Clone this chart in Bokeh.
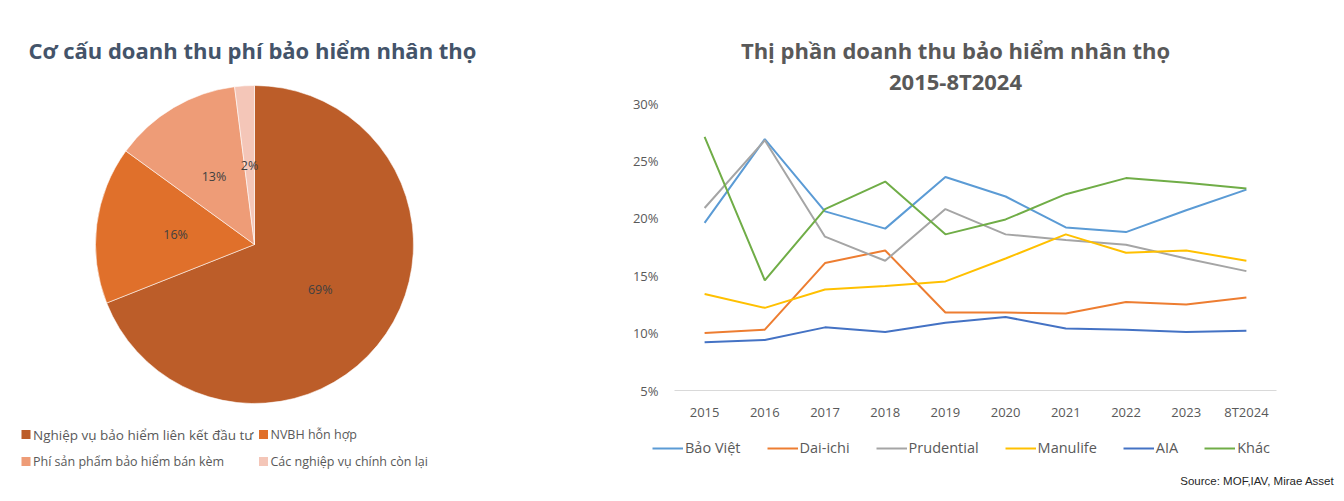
import math
from bokeh.plotting import figure
from bokeh.models import (Range1d, LinearAxis, FixedTicker, PrintfTickFormatter,
                          ColumnDataSource, Legend, LegendItem)
from bokeh.core.properties import value
from bokeh.embed import file_html
from bokeh.resources import INLINE

# ---------------- data ----------------
pie_title = "Cơ cấu doanh thu phí bảo hiểm nhân thọ"
pie_names = ["Nghiệp vụ bảo hiểm liên kết đầu tư", "NVBH hỗn hợp",
             "Phí sản phẩm bảo hiểm bán kèm", "Các nghiệp vụ chính còn lại"]
pie_shares = [69, 16, 13, 2]
pie_colors = ["#BC5D29", "#E0702B", "#EE9C77", "#F4C6B8"]

line_title_1 = "Thị phần doanh thu bảo hiểm nhân thọ"
line_title_2 = "2015-8T2024"
years = ["2015", "2016", "2017", "2018", "2019", "2020", "2021", "2022", "2023", "8T2024"]
series_names = ["Bảo Việt", "Dai-ichi", "Prudential", "Manulife", "AIA", "Khác"]
bao_viet = [19.6, 26.9, 20.6, 19.1, 23.6, 21.9, 19.2, 18.8, 20.7, 22.5]
dai_ichi = [10.0, 10.3, 16.1, 17.2, 11.8, 11.8, 11.7, 12.7, 12.5, 13.1]
prudential = [20.9, 26.8, 18.4, 16.3, 20.8, 18.6, 18.1, 17.7, 16.5, 15.4]
manulife = [13.4, 12.2, 13.8, 14.1, 14.5, 16.5, 18.6, 17.0, 17.2, 16.3]
aia = [9.2, 9.4, 10.5, 10.1, 10.9, 11.4, 10.4, 10.3, 10.1, 10.2]
khac = [27.1, 14.6, 20.8, 23.2, 18.6, 19.9, 22.1, 23.5, 23.1, 22.6]
series_colors = ["#5B9BD5", "#ED7D31", "#A5A5A5", "#FFC000", "#4472C4", "#70AD47"]
y_ticks = [5, 10, 15, 20, 25, 30]
source_text = "Source: MOF,IAV,  Mirae Asset"

FONT = value("Open Sans")
W, H = 1344, 501

# layout of the line-chart panel (pixels in the canvas, origin bottom-left)
PX_L, PX_R = 674, 1276          # plot area left/right
PY_B, PY_T = H - 390, H - 103   # plot area bottom/top
y_lo, y_hi = y_ticks[0], y_ticks[-1]
n = len(years)
ypp = (PY_T - PY_B) / (y_hi - y_lo)
xpp = (PX_R - PX_L) / n
pct_range = Range1d(y_lo - PY_B / ypp, y_hi + (H - PY_T) / ypp)
idx_range = Range1d(-0.5 - PX_L / xpp, n - 0.5 + (W - PX_R) / xpp)

p = figure(width=W, height=H, x_range=Range1d(0, W), y_range=Range1d(0, H),
           x_axis_type=None, y_axis_type=None, output_backend="svg",
           toolbar_location=None, min_border=0)
p.extra_x_ranges = {"idx": idx_range}
p.extra_y_ranges = {"pct": pct_range}
p.grid.visible = False
p.outline_line_color = None

# ---------------- pie ----------------
cx, cy, r = 254, 257, 159
total = sum(pie_shares)
starts, ends, lx, ly, ltxt = [], [], [], [], []
cum = 0
for s in pie_shares:
    a0 = math.pi / 2 - 2 * math.pi * cum / total
    cum += s
    a1 = math.pi / 2 - 2 * math.pi * cum / total
    starts.append(a0)
    ends.append(a1)
    mid = (a0 + a1) / 2
    lx.append(cx + 0.5 * r * math.cos(mid))
    ly.append(cy + 0.5 * r * math.sin(mid))
    ltxt.append(f"{s}%")

pie_src = ColumnDataSource(dict(start=starts, end=ends, color=pie_colors))
p.wedge(x=cx, y=cy, radius=r, start_angle="start", end_angle="end", direction="clock",
        fill_color="color", line_color="white", line_width=0.8, line_alpha=0.7, source=pie_src)
p.text(x=lx, y=ly, text=ltxt, text_font=FONT, text_font_size="12.5px", text_color="#404040",
       text_align="center", text_baseline="middle")

p.text(x=[28], y=[452], text=[pie_title], text_font=FONT, text_font_size="22px",
       text_font_style="bold", text_color="#44546A", text_align="left", text_baseline="middle")

leg_x = [25.5, 263, 25.5, 263]
leg_y = [67, 67, 40, 40]
leg_fs = ["13.5px", "12.5px", "12.5px", "12.5px"]
p.rect(x=leg_x, y=leg_y, width=9, height=9, fill_color=pie_colors, line_color=None)
p.text(x=[v + 7 for v in leg_x], y=leg_y, text=pie_names, text_font=FONT,
       text_font_size=leg_fs, text_color="#595959", text_align="left", text_baseline="middle")

# ---------------- line chart ----------------
xi = list(range(n))
all_series = [bao_viet, dai_ichi, prudential, manulife, aia, khac]
items = []
for name, vals, col in zip(series_names, all_series, series_colors):
    rr = p.line(xi, vals, line_color=col, line_width=2,
                x_range_name="idx", y_range_name="pct")
    items.append(LegendItem(label=name, renderers=[rr]))

yaxis = LinearAxis(y_range_name="pct", fixed_location=PX_L, bounds=(y_lo, y_hi),
                   ticker=FixedTicker(ticks=y_ticks),
                   formatter=PrintfTickFormatter(format="%d%%"),
                   axis_line_color=None, major_tick_line_color=None,
                   minor_tick_line_color=None, major_tick_in=0, major_tick_out=0,
                   major_label_standoff=16, major_label_text_font="Open Sans",
                   major_label_text_font_size="13px", major_label_text_color="#595959")
p.add_layout(yaxis, "left")

xaxis = LinearAxis(x_range_name="idx", fixed_location=PY_B, bounds=(-0.5, n - 0.5),
                   ticker=FixedTicker(ticks=xi),
                   major_label_overrides={i: y for i, y in enumerate(years)},
                   axis_line_color="#D9D9D9", axis_line_width=1,
                   major_tick_line_color=None, minor_tick_line_color=None,
                   major_tick_in=0, major_tick_out=0, major_label_standoff=12,
                   major_label_text_font="Open Sans", major_label_text_font_size="13px",
                   major_label_text_color="#595959")
p.add_layout(xaxis, "below")

leg = Legend(items=items, orientation="horizontal", location=(652, 44),
             padding=0, margin=0, spacing=26, glyph_width=31, glyph_height=18,
             label_height=18, label_standoff=2, label_text_font="Open Sans",
             label_text_font_size="14.5px", label_text_color="#595959",
             border_line_color=None, background_fill_alpha=0)
p.add_layout(leg, "center")

p.text(x=[955, 955], y=[452, 421], text=[line_title_1, line_title_2], text_font=FONT,
       text_font_size="22px", text_font_style="bold", text_color="#595959",
       text_align="center", text_baseline="middle")
p.text(x=[1337], y=[21], text=[source_text], text_font=value("Liberation Sans"),
       text_font_size="11.5px", text_color="#262626", text_align="right",
       text_baseline="middle")

open("out.html", "w").write(file_html(p, INLINE))
